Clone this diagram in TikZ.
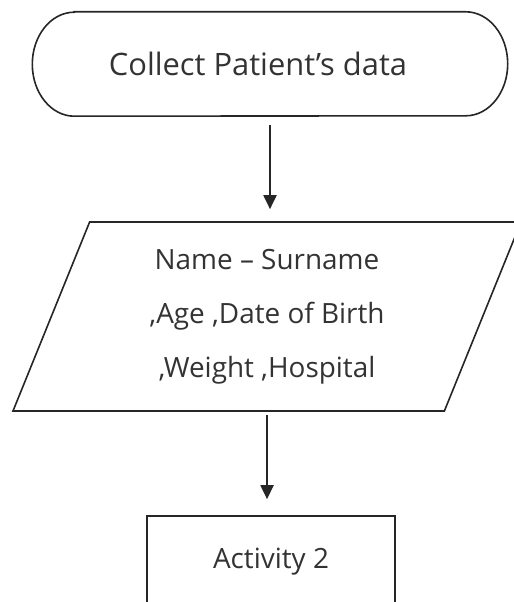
\documentclass[tikz,border=0pt]{standalone}
\usepackage{fontspec}
\setmainfont{Open Sans}
\usetikzlibrary{shapes.geometric, arrows.meta}

\tikzset{
  flow/.style={line width=1.6bp, draw=black!85},
  iobox/.style={flow, trapezium, trapezium left angle=61.5, trapezium right angle=118.5,
    trapezium stretches body, minimum width=508bp, minimum height=189bp, align=center},
  actbox/.style={flow, rectangle, minimum width=248bp, minimum height=92bp},
  arr/.style={line width=2bp, draw=black!85, -{Triangle[width=13bp,length=14bp]}},
}

\begin{document}
\begin{tikzpicture}[x=1bp, y=-1bp, font=\fontsize{28}{54}\selectfont, text=black!80]
		\useasboundingbox (0,0) rectangle (514,602);
		\clip (0,0) rectangle (514,602);

		% start: terminator with flattened round ends (text sits a bit left of centre)
		\node[minimum width=475bp, minimum height=104bp, font=\fontsize{31}{54}\selectfont] (term) at (270,64)
			{Collect Patient’s data\hspace*{24bp}};
		\draw[flow] ([xshift=42bp]term.north west) -- ([xshift=-42bp]term.north east)
			arc[start angle=90, end angle=-90, x radius=42bp, y radius=52bp]
			-- ([xshift=42bp]term.south west)
			arc[start angle=270, end angle=90, x radius=42bp, y radius=52bp] -- cycle;

		% input data
		\node[iobox] (io) at (267,316.5) {Name – Surname\\,Age ,Date of Birth\\,Weight ,Hospital};

		% next step
		\node[actbox] (act) at (271,562) {Activity 2};

		\draw[arr, shorten <=9bp, shorten >=12bp] (term.south) -- (term.south |- io.north);
		\draw[arr, shorten <=3bp, shorten >=16bp] (io.south) -- (io.south |- act.north);
	\end{tikzpicture}
\end{document}
